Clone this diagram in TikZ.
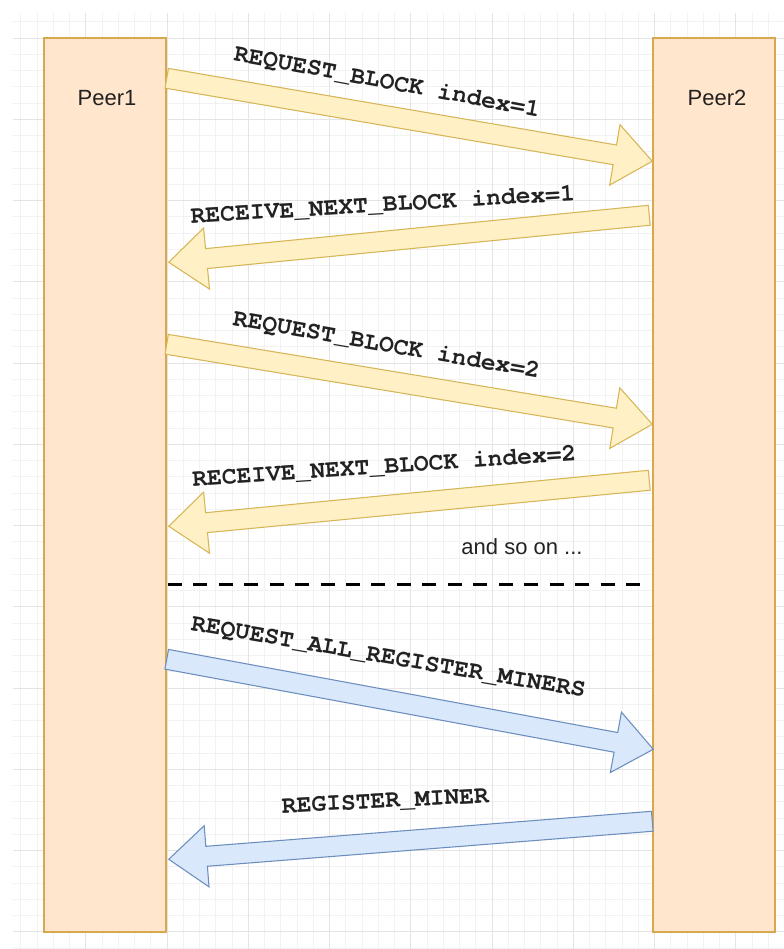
\documentclass[tikz,border=0pt]{standalone}
\usepackage{fontspec}
\setmainfont{Liberation Sans}
\newfontfamily\monof{texgyrecursor}[Extension=.otf, UprightFont=*-regular, BoldFont=*-bold]
\usetikzlibrary{calc}
\definecolor{boxfill}{HTML}{FFE6CC}
\definecolor{boxline}{HTML}{D9A84E}
\definecolor{yfill}{HTML}{FFF0C6}
\definecolor{yline}{HTML}{D6B656}
\definecolor{bfill}{HTML}{DAE8FC}
\definecolor{bline}{HTML}{6C8EBF}
\definecolor{gminor}{HTML}{F2F2F2}
\definecolor{gmajor}{HTML}{E4E4E4}
\definecolor{ink}{HTML}{222222}
\newcommand\blockarrow[3]{%
  \coordinate (bah) at ($(#3)!28.5pt!(#2)$);
  \draw[#1] ($(#2)!7.5pt!90:(#3)$) -- ($(bah)!7.5pt!-90:(#2)$) -- ($(bah)!23pt!-90:(#2)$) -- (#3)
    -- ($(bah)!23pt!90:(#2)$) -- ($(bah)!7.5pt!90:(#2)$) -- ($(#2)!7.5pt!-90:(#3)$) -- cycle;
}
\begin{document}
\begin{tikzpicture}[x=0.75pt,y=-0.75pt,
  peer/.style={draw=boxline, fill=boxfill, line width=1.1pt, minimum width=91.5pt, minimum height=670.5pt, inner sep=0pt},
  peerlbl/.style={anchor=center, yshift=-47.25pt, font=\fontsize{16.5}{18}\selectfont, text=ink, text height=0.72em, text depth=0pt, inner sep=0pt},
  msg/.style={font=\monof\bfseries\fontsize{18.5}{20}\selectfont, text=ink, text height=0.58em, text depth=0pt, inner sep=0pt},
  note/.style={font=\fontsize{16.5}{18}\selectfont, text=ink, text height=0.72em, text depth=0pt, inner sep=0pt},
  yarrow/.style={draw=yline, fill=yfill, line width=0.8pt, line join=miter},
  barrow/.style={draw=bline, fill=bfill, line width=0.8pt, line join=miter},
  gminorst/.style={draw=gminor, line width=0.6pt},
  gmajorst/.style={draw=gmajor, line width=0.7pt},
  sep/.style={draw=black, line width=2.25pt, dash pattern=on 10.5pt off 8.6pt}
]
\useasboundingbox (0,0) rectangle (784,949);
\fill[white] (0,0) rectangle (784,949);
% grid
\foreach \i in {-9,...,37} \draw[gminorst] ({167+16.25*\i},13) -- ({167+16.25*\i},949);
\foreach \k in {-1,...,56} \draw[gminorst] (13,{38+16.25*\k}) -- (784,{38+16.25*\k});
\foreach \i in {-1,...,7} \draw[gmajorst] ({167+81.25*\i},13) -- ({167+81.25*\i},949);
\foreach \k in {0,...,11} \draw[gmajorst] (13,{38+81.25*\k}) -- (784,{38+81.25*\k});
% peers
\node[peer, label={[peerlbl, xshift=1.5pt]north:Peer1}] (p1) at (105,485) {};
\node[peer, label={[peerlbl, xshift=2.25pt]north:Peer2}] (p2) at (714,485) {};
% arrow end points
\coordinate (a1s) at ($(p1.north east)+(0,41)$);
\coordinate (a1e) at ($(p2.north west)+(0,124)$);
\coordinate (a2s) at ($(p2.north west)+(-3,178)$);
\coordinate (a2e) at ($(p1.north east)+(2,225)$);
\coordinate (a3s) at ($(p1.north east)+(0,307)$);
\coordinate (a3e) at ($(p2.north west)+(0,387)$);
\coordinate (a4s) at ($(p2.north west)+(-3,443)$);
\coordinate (a4e) at ($(p1.north east)+(2,489)$);
\coordinate (a5s) at ($(p1.north east)+(0,622)$);
\coordinate (a5e) at ($(p2.north west)+(1,712)$);
\coordinate (a6s) at ($(p2.north west)+(0,784)$);
\coordinate (a6e) at ($(p1.north east)+(2,822)$);
\coordinate (ds) at ($(p1.north east)+(1,547)$);
\coordinate (de) at ($(p2.north west)+(-11,547)$);
% arrows
\blockarrow{yarrow}{a1s}{a1e}
\blockarrow{yarrow}{a2s}{a2e}
\blockarrow{yarrow}{a3s}{a3e}
\blockarrow{yarrow}{a4s}{a4e}
\blockarrow{barrow}{a5s}{a5e}
\blockarrow{barrow}{a6s}{a6e}
% labels
\node[msg, rotate=-10.5] (l1) at (386.5,85) {REQUEST\_BLOCK index=1};
\node[msg, rotate=3.4] (l2) at (383,208) {RECEIVE\_NEXT\_BLOCK index=1};
\node[msg, rotate=-9.8] (l3) at (386,348) {REQUEST\_BLOCK index=2};
\node[msg, rotate=3.8] (l4) at (384.5,469.5) {RECEIVE\_NEXT\_BLOCK index=2};
\node[msg, rotate=-9.7] (l5) at (388,660) {REQUEST\_ALL\_REGISTER\_MINERS};
\node[msg, rotate=2.9] (l6) at (385.5,804) {REGISTER\_MINER};
\node[note] (more) at (522,549.5) {and so on ...};
% separator
\draw[sep] (ds) -- (de);
\end{tikzpicture}
\end{document}
